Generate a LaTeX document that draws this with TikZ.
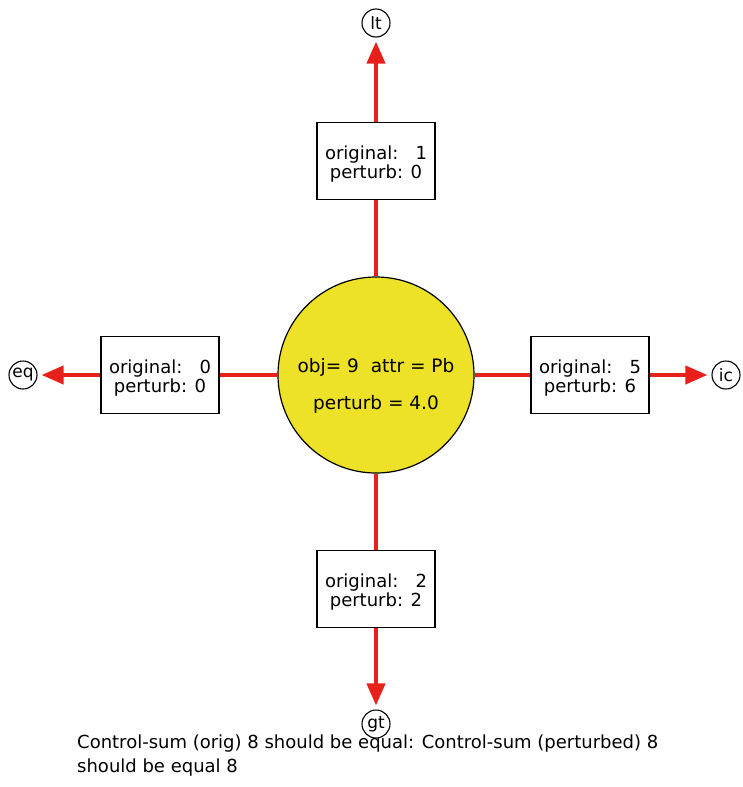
\documentclass[tikz,border=0pt]{standalone}
\usepackage{fontspec}
\setmainfont{DejaVu Sans}
\usetikzlibrary{arrows.meta,backgrounds}
\definecolor{ballyellow}{RGB}{237,226,40}
\definecolor{linkred}{RGB}{232,32,28}
\newcommand\valtext[2]{\raisebox{-4pt}[\height][\depth]{\begin{tabular}{@{}c@{}}original:\ \ \ #1\\perturb: #2\end{tabular}}}
\begin{document}
\begin{tikzpicture}[x=1pt,y=-1pt,
  every node/.style={font=\fontsize{18}{18}\selectfont},
  valbox/.style={draw=black,line width=1.6pt,fill=white,minimum width=118pt,minimum height=77pt,align=center,inner sep=0pt},
  endcirc/.style={draw=black,line width=1.1pt,circle,minimum size=28pt,inner sep=0pt,font=\fontsize{17}{17}\selectfont},
  link/.style={linkred,line width=4pt},
  arrowlink/.style={linkred,line width=4pt,-{Triangle[length=22pt,width=18pt]},shorten >=4pt}
]
\useasboundingbox (0,0) rectangle (743,787);
\node[circle,draw=black,line width=1.2pt,fill=ballyellow,minimum size=196pt,inner sep=0pt] (obj) at (376,375) {};
\node[align=center,font=\fontsize{18.5}{37}\selectfont] (objtext) at (376,386) {obj= 9\ \ attr = Pb\\perturb = 4.0};
\node[valbox] (top) at (376,161) {\valtext{1}{0}};
\node[valbox] (left) at (160,375) {\valtext{0}{0}};
\node[valbox] (right) at (590,375) {\valtext{5}{6}};
\node[valbox] (bot) at (376,589) {\valtext{2}{2}};
\node[endcirc] (lt) at (376,23) {lt};
\node[endcirc] (eq) at (23,375) {eq};
\node[endcirc] (ic) at (726,375) {ic};
\node[endcirc] (gt) at (376,724) {gt};
\begin{scope}[on background layer]
\draw[link] (obj) -- (top);
\draw[link] (obj) -- (left);
\draw[link] (obj) -- (right);
\draw[link] (obj) -- (bot);
\end{scope}
\draw[arrowlink] (top) -- (lt);
\draw[arrowlink] (left) -- (eq);
\draw[arrowlink] (right) -- (ic);
\draw[arrowlink] (bot) -- (gt);
\node[anchor=north west,align=left,inner sep=0pt,font=\fontsize{18}{24}\selectfont] (note) at (77,735) {Control-sum (orig) 8 should be equal: Control-sum (perturbed) 8\\should be equal 8};
\end{tikzpicture}
\end{document}
